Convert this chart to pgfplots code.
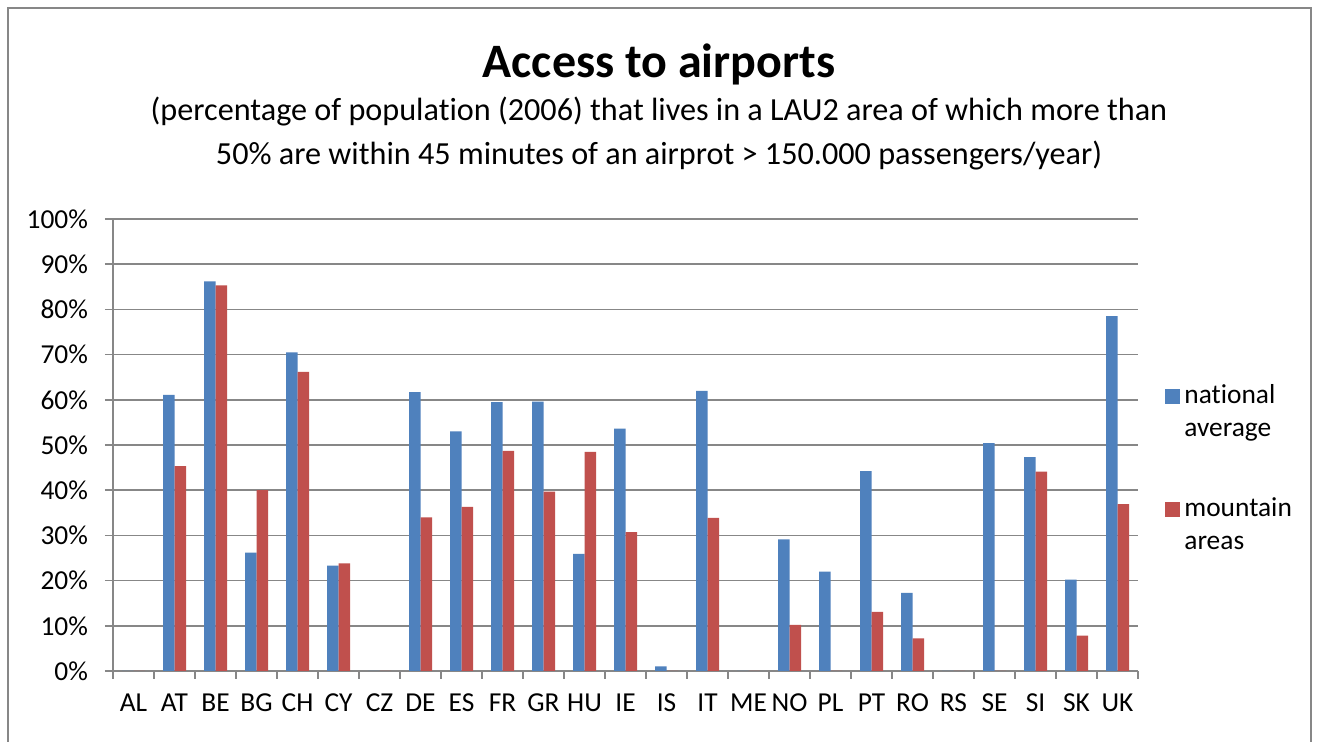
\documentclass[border=0pt]{standalone}
\usepackage{pgfplots}
\pgfplotsset{compat=1.18}
\usepackage{fontspec}
\setmainfont[Ligatures={NoCommon}]{Carlito}
\definecolor{cblue}{HTML}{4F81BD}
\definecolor{cred}{HTML}{C0504D}
\definecolor{cgrid}{HTML}{878787}
\begin{document}
\begin{tikzpicture}
\path[use as bounding box, fill=white] (0,0) rectangle (660pt,371pt);
\draw[cgrid, line width=0.8pt] (4pt,-10pt) -- (4pt,367pt) -- (655.5pt,367pt) -- (655.5pt,-10pt);
\node[anchor=base, font=\fontsize{24}{28}\selectfont\bfseries] at (329.5pt,332pt) {Access to airports};
\node[anchor=base, font=\fontsize{16.1}{19}\selectfont] at (329.5pt,310.5pt) {(percentage of population (2006) that lives in a LAU2 area of which more than};
\node[anchor=base, font=\fontsize{16.1}{19}\selectfont] at (329.5pt,288.5pt) {50\% are within 45 minutes of an airprot > 150.000 passengers/year)};
\begin{axis}[
  at={(56.5pt,35.5pt)}, anchor=south west,
  scale only axis, width=512.5pt, height=226pt,
  xmin=-0.5, xmax=24.5, ymin=0, ymax=100,
  ybar=0pt, bar width=5.75pt,
  axis x line*=bottom, axis y line*=left,
  axis line style={cgrid, line width=0.8pt},
  xtick={0,...,24},
  xticklabels={AL,AT,BE,BG,CH,CY,CZ,DE,ES,FR,GR,HU,IE,IS,IT,ME,NO,PL,PT,RO,RS,SE,SI,SK,UK},
  major x tick style={draw=none},
  minor xtick={-0.5,0.5,...,24.5},
  minor x tick style={cgrid, line width=0.8pt},
  minor tick length=4pt,
  ytick={0,10,...,100},
  yticklabel={\pgfmathprintnumber{\tick}\%},
  y tick style={cgrid, line width=0.8pt},
  major tick length=4pt,
  tick align=outside,
  ymajorgrids, grid style={cgrid, line width=0.8pt},
  /pgf/number format/assume math mode=true,
  ticklabel style={font=\fontsize{13.7}{16}\selectfont, text=black},
  xticklabel style={yshift=-4pt},
  yticklabel style={xshift=-5pt},
  legend style={at={(1,1)}, anchor=north west, xshift=13.5pt, yshift=-80.5pt, draw=none, fill=none,
    font=\fontsize{13.7}{16.5}\selectfont, row sep=25pt, inner sep=0pt,
    nodes={align=left, inner sep=2pt}},
  legend cell align=left,
  legend image code/.code={\fill[#1] (0pt,4pt) rectangle (7.5pt,11.5pt);},
]
\addplot[fill=cblue, draw=none] coordinates {(0,0) (1,61.1) (2,86.2) (3,26.2) (4,70.5) (5,23.3) (6,0) (7,61.7) (8,53.0) (9,59.5) (10,59.6) (11,25.9) (12,53.6) (13,1.0) (14,62.0) (15,0) (16,29.1) (17,22.0) (18,44.2) (19,17.3) (20,0) (21,50.4) (22,47.3) (23,20.2) (24,78.5)};
\addplot[fill=cred, draw=none] coordinates {(0,0) (1,45.3) (2,85.3) (3,40.0) (4,66.2) (5,23.8) (6,0) (7,34.0) (8,36.3) (9,48.7) (10,39.7) (11,48.5) (12,30.7) (13,0) (14,33.9) (15,0) (16,10.2) (17,0) (18,13.1) (19,7.2) (20,0) (21,0) (22,44.1) (23,7.8) (24,36.9)};
\legend{national\\average, mountain\\areas}
\end{axis}
\end{tikzpicture}
\end{document}
